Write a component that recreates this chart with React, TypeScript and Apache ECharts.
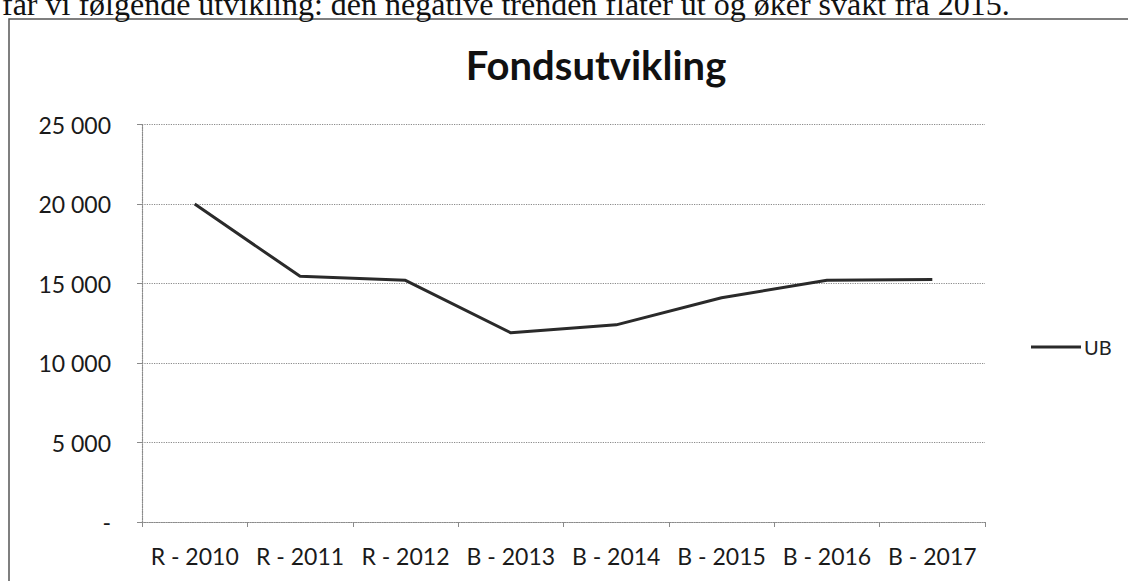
import React, { useEffect, useRef } from "react";
import * as echarts from "echarts";

const introText =
  "får vi følgende utvikling: den negative trenden flater ut og øker svakt fra 2015.";
const titleText = "Fondsutvikling";
const seriesName = "UB";
const categories = [
  "R - 2010",
  "R - 2011",
  "R - 2012",
  "B - 2013",
  "B - 2014",
  "B - 2015",
  "B - 2016",
  "B - 2017",
];
const ubValues = [20000, 15450, 15200, 11900, 12400, 14100, 15200, 15250];
const yMin = 0;
const yMax = 25000;
const yInterval = 5000;

const fmtThousands = (v: number) =>
  v === 0 ? "-" : String(v).replace(/\B(?=(\d{3})+(?!\d))/g, " ");

const FONT = "Lato, 'Open Sans', sans-serif";

export default function App() {
  const ref = useRef<HTMLDivElement>(null);

  useEffect(() => {
    if (!ref.current) return;
    const chart = echarts.init(ref.current, undefined, { renderer: "svg" });
    const gridColor = "#8a8a8a";
    chart.setOption({
      animation: false,
      backgroundColor: "#ffffff",
      title: {
        text: titleText,
        left: 591,
        top: 40,
        textAlign: "center",
        textStyle: {
          fontFamily: FONT,
          fontWeight: "bold",
          fontSize: 40,
          color: "#111",
        },
      },
      legend: {
        orient: "vertical",
        left: 1026,
        top: 332,
        itemWidth: 50,
        itemHeight: 3,
        itemGap: 4,
        data: [{ name: seriesName, icon: "rect" }],
        itemStyle: { color: "#2a2a2a" },
        textStyle: { fontFamily: FONT, fontSize: 20, color: "#222", padding: [0, 0, 0, -2] },
      },
      grid: { left: 142, right: 143, top: 124.5, bottom: 59 },
      xAxis: {
        type: "category",
        data: categories,
        boundaryGap: true,
        axisLine: { show: true, lineStyle: { color: gridColor, type: "dotted", width: 1.2 } },
        axisTick: {
          show: true,
          length: 5,
          alignWithLabel: false,
          lineStyle: { color: gridColor, width: 1 },
        },
        axisLabel: {
          fontFamily: FONT,
          fontSize: 23,
          color: "#1a1a1a",
          margin: 22,
          interval: 0,
        },
        splitLine: { show: false },
      },
      yAxis: {
        type: "value",
        min: yMin,
        max: yMax,
        interval: yInterval,
        axisLine: { show: true, lineStyle: { color: gridColor, type: "dotted", width: 1.2 } },
        axisTick: { show: true, length: 5, lineStyle: { color: gridColor, width: 1 } },
        axisLabel: {
          fontFamily: FONT,
          fontSize: 23,
          color: "#1a1a1a",
          margin: 31,
          formatter: (v: number) => fmtThousands(v),
        },
        splitLine: {
          show: true,
          lineStyle: { color: gridColor, type: "dotted", width: 1.2 },
        },
      },
      series: [
        {
          name: seriesName,
          type: "line",
          data: ubValues,
          symbol: "none",
          smooth: false,
          lineStyle: { color: "#2a2a2a", width: 3 },
          itemStyle: { color: "#2a2a2a" },
        },
      ],
      graphic: [
        {
          type: "rect",
          shape: { x: 9, y: 19, width: 1300, height: 800 },
          style: { fill: "none", stroke: "#555", lineWidth: 1.5 },
          silent: true,
        },
        {
          type: "text",
          x: 2,
          y: 20,
          style: {
            text: introText,
            font: "32px 'Liberation Serif', 'DejaVu Serif', serif",
            fill: "#111",
            verticalAlign: "bottom",
          },
          silent: true,
        },
      ],
    });
    return () => chart.dispose();
  }, []);

  return (
    <div
      ref={ref}
      style={{ position: "absolute", left: 0, top: 0, width: 1128, height: 581 }}
    />
  );
}
